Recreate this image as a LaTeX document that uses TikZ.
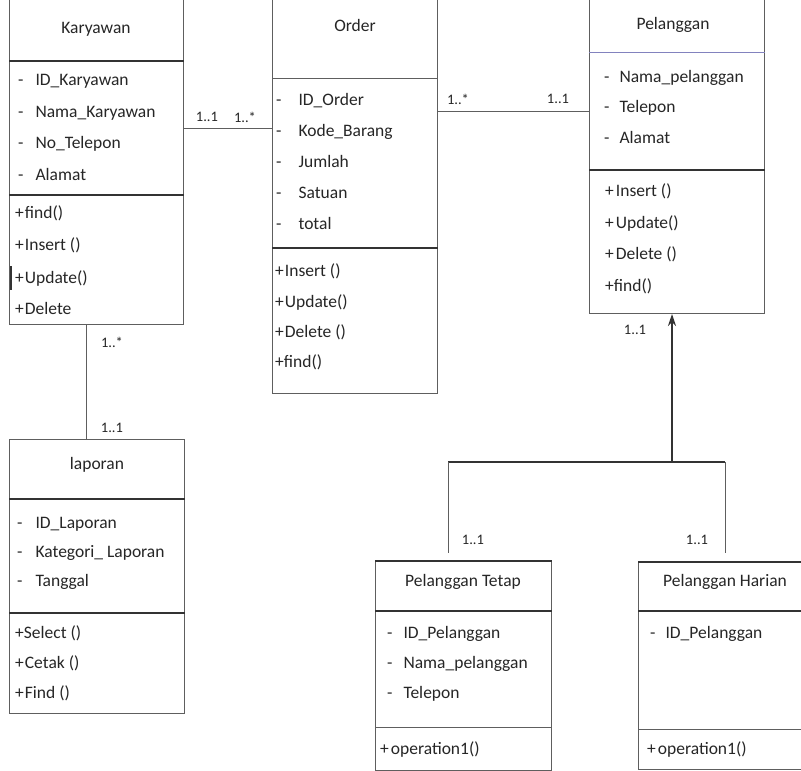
\documentclass[tikz,border=0pt]{standalone}
\usepackage{fontspec}
\setmainfont{Carlito}
\usetikzlibrary{arrows.meta}
\definecolor{ink}{HTML}{262626}
\definecolor{edgec}{HTML}{5E5E5E}
\definecolor{sepc}{HTML}{333333}
\definecolor{bluesep}{HTML}{8282BE}
\newcommand{\attr}[2][12pt]{-\hspace{#1}#2}
\tikzset{
  cls/.style={draw=edgec, line width=1pt, rectangle, inner sep=0pt, anchor=north west},
  sepline/.style={draw=sepc, line width=1.8pt},
  lightsep/.style={draw=edgec, line width=1pt},
  txt/.style={anchor=base west, inner sep=0pt, font=\fontsize{17.5}{20}\selectfont, text=ink},
  ttl/.style={anchor=base, inner sep=0pt, font=\fontsize{17.5}{20}\selectfont, text=ink},
  mult/.style={anchor=center, inner sep=0pt, font=\fontsize{14.5}{16}\selectfont, text=ink},
  assoc/.style={draw=edgec, line width=1pt},
  genline/.style={draw=sepc, line width=1.8pt},
}
\begin{document}
\begin{tikzpicture}[x=1pt,y=-1pt]
\useasboundingbox (0,0) rectangle (801,771);
\clip (0,0) rectangle (801,771);
\fill[white] (0,0) rectangle (801,771);

% ---------------- Karyawan
\node[cls, minimum width=174pt, minimum height=329pt] (kar) at (9,-5) {};
\draw[sepline] (kar.west |- 0,61) -- (kar.east |- 0,61);
\draw[sepline] (kar.west |- 0,195) -- (kar.east |- 0,195);
\draw[sepc, line width=2.5pt] (11,266) -- (11,290);
\node[ttl] (karT) at (96,33) {Karyawan};
\node[txt] (karA1) at (18,85) {\attr{ID\_Karyawan}};
\node[txt] (karA2) at (18,117) {\attr{Nama\_Karyawan}};
\node[txt] (karA3) at (18,148) {\attr{No\_Telepon}};
\node[txt] (karA4) at (18,180) {\attr{Alamat}};
\node[txt] (karM1) at (15,218) {+\hspace{1pt}find()};
\node[txt] (karM2) at (15,250) {+\hspace{1pt}Insert ()};
\node[txt] (karM3) at (15,283) {+\hspace{1pt}Update()};
\node[txt] (karM4) at (15,314) {+\hspace{1pt}Delete};

% ---------------- Order
\node[cls, minimum width=165pt, minimum height=398pt] (ord) at (272,-5) {};
\draw[lightsep] (ord.west |- 0,78) -- (ord.east |- 0,78);
\draw[sepline] (ord.west |- 0,248) -- (ord.east |- 0,248);
\node[ttl] (ordT) at (355,31) {Order};
\node[txt] (ordA1) at (276,105) {\attr[17pt]{ID\_Order}};
\node[txt] (ordA2) at (276,136) {\attr[17pt]{Kode\_Barang}};
\node[txt] (ordA3) at (276,167) {\attr[17pt]{Jumlah}};
\node[txt] (ordA4) at (276,198) {\attr[17pt]{Satuan}};
\node[txt] (ordA5) at (276,229) {\attr[17pt]{total}};
\node[txt] (ordM1) at (275,276) {+\hspace{1pt}Insert ()};
\node[txt] (ordM2) at (275,307) {+\hspace{1pt}Update()};
\node[txt] (ordM3) at (275,337) {+\hspace{1pt}Delete ()};
\node[txt] (ordM4) at (275,367) {+find()};

% ---------------- Pelanggan
\node[cls, minimum width=175pt, minimum height=318pt] (pel) at (589,-5) {};
\draw[draw=bluesep, line width=1pt] (pel.west |- 0,52) -- (pel.east |- 0,52);
\draw[sepline] (pel.west |- 0,170) -- (pel.east |- 0,170);
\node[ttl] (pelT) at (673,29) {Pelanggan};
\node[txt] (pelA1) at (604,82) {\attr[10pt]{Nama\_pelanggan}};
\node[txt] (pelA2) at (604,112) {\attr[10pt]{Telepon}};
\node[txt] (pelA3) at (604,143) {\attr[10pt]{Alamat}};
\node[txt] (pelM1) at (605,196) {+\hspace{2pt}Insert ()};
\node[txt] (pelM2) at (605,228) {+\hspace{2pt}Update()};
\node[txt] (pelM3) at (605,259) {+\hspace{2pt}Delete ()};
\node[txt] (pelM4) at (605,291) {+find()};

% ---------------- laporan
\node[cls, minimum width=175pt, minimum height=274pt] (lap) at (9,439) {};
\draw[sepline] (lap.west |- 0,499) -- (lap.east |- 0,499);
\draw[sepline] (lap.west |- 0,613) -- (lap.east |- 0,613);
\node[ttl] (lapT) at (97,469) {laporan};
\node[txt] (lapA1) at (17,528) {\attr[13pt]{ID\_Laporan}};
\node[txt] (lapA2) at (17,557) {\attr[13pt]{Kategori\_ Laporan}};
\node[txt] (lapA3) at (17,586) {\attr[13pt]{Tanggal}};
\node[txt] (lapM1) at (15,638) {+Select ()};
\node[txt] (lapM2) at (15,668) {+\hspace{1pt}Cetak ()};
\node[txt] (lapM3) at (15,698) {+\hspace{1pt}Find ()};

% ---------------- Pelanggan Tetap
\node[cls, minimum width=176pt, minimum height=209pt] (tet) at (375,561) {};
\draw[sepline] (tet.north west) -- (tet.north east);
\draw[sepline] (tet.west |- 0,611) -- (tet.east |- 0,611);
\draw[lightsep] (tet.west |- 0,727) -- (tet.east |- 0,727);
\node[ttl] (tetT) at (463,586) {Pelanggan Tetap};
\node[txt] (tetA1) at (387,638) {\attr[11pt]{ID\_Pelanggan}};
\node[txt] (tetA2) at (387,668) {\attr[11pt]{Nama\_pelanggan}};
\node[txt] (tetA3) at (387,698) {\attr[11pt]{Telepon}};
\node[txt] (tetM1) at (380,754) {+\hspace{2pt}operation1()};

% ---------------- Pelanggan Harian
\node[cls, minimum width=180pt, minimum height=207pt] (har) at (638,562) {};
\draw[sepline] (har.north west) -- (har.north east);
\draw[sepline] (har.west |- 0,611) -- (har.east |- 0,611);
\draw[lightsep] (har.west |- 0,729) -- (har.east |- 0,729);
\node[ttl] (harT) at (725,586) {Pelanggan Harian};
\node[txt] (harA1) at (650,638) {\attr[10pt]{ID\_Pelanggan}};
\node[txt] (harM1) at (647,754) {+\hspace{2pt}operation1()};

% ---------------- Associations
\draw[assoc] (kar.east |- 0,128) -- (ord.west |- 0,128);
\node[mult] (m1) at (207,117) {1..1};
\node[mult] (m2) at (245,117) {1..*};

\draw[assoc] (ord.east |- 0,111) -- (pel.west |- 0,111);
\node[mult] (m3) at (458,99) {1..*};
\node[mult] (m4) at (558,99) {1..1};

\draw[assoc] (kar.south -| 86,0) -- (lap.north -| 86,0);
\node[mult] (m5) at (112,342) {1..*};
\node[mult] (m6) at (112,428) {1..1};

% ---------------- Generalization
\coordinate (gJ) at (672,462);
\coordinate (gL) at (448,462);
\coordinate (gR) at (725,462);
\coordinate (gLe) at (448,553);
\coordinate (gRe) at (725,553);
\draw[genline, -{Stealth[length=12pt,width=8pt]}] (gJ) -- (pel.south -| gJ);
\draw[genline] (gL) -- (gR);
\draw[assoc] (gL) -- (gLe);
\draw[assoc] (gR) -- (gRe);
\node[mult] (m7) at (635,330) {1..1};
\node[mult] (m8) at (473,540) {1..1};
\node[mult] (m9) at (697,540) {1..1};
\end{tikzpicture}
\end{document}
